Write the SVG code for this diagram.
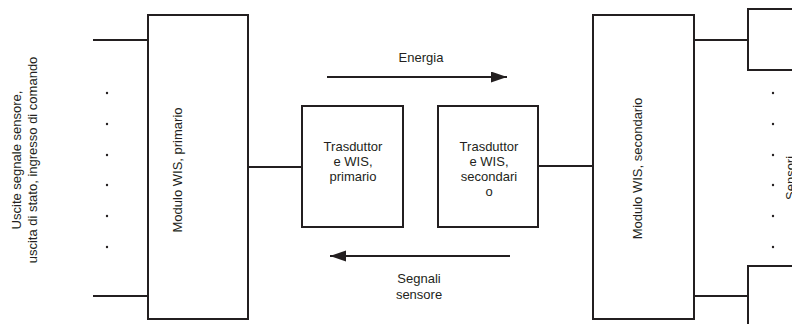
<svg xmlns="http://www.w3.org/2000/svg" width="792" height="324" viewBox="0 0 792 324">
<style>
.box{fill:#fff;stroke:#231f20;stroke-width:2}
.ln{stroke:#231f20;stroke-width:2;fill:none}
.t{font-family:"Liberation Sans",Arial,sans-serif;font-size:13px;fill:#231f20}
.c{text-anchor:middle}
.dot{fill:#231f20}
</style>
<defs>
<marker id="ah" markerUnits="userSpaceOnUse" markerWidth="17" markerHeight="12" refX="16" refY="5.5" orient="auto">
<path d="M0,0 L16,5.5 L0,11 Z" fill="#231f20"/>
</marker>
</defs>
<g id="connectors">
<line class="ln" x1="93" y1="40" x2="148" y2="40"/>
<line class="ln" x1="93" y1="296" x2="148" y2="296"/>
<line class="ln" x1="248" y1="167" x2="302" y2="167"/>
<line class="ln" x1="538" y1="166" x2="593" y2="166"/>
<line class="ln" x1="694" y1="40" x2="748" y2="40"/>
<line class="ln" x1="694" y1="296" x2="748" y2="296"/>
<line class="ln" x1="327" y1="77" x2="507" y2="77" marker-end="url(#ah)"/>
<line class="ln" x1="510" y1="256" x2="330" y2="256" marker-end="url(#ah)"/>
</g>
<g id="left-label">
<text class="t c" transform="translate(21,160) rotate(-90)">Uscite segnale sensore,</text>
<text class="t c" transform="translate(37,160) rotate(-90)">uscita di stato, ingresso di comando</text>
</g>
<g id="left-dots">
<circle class="dot" cx="107" cy="93" r="1.2"/>
<circle class="dot" cx="107" cy="124" r="1.2"/>
<circle class="dot" cx="107" cy="155" r="1.2"/>
<circle class="dot" cx="107" cy="185" r="1.2"/>
<circle class="dot" cx="107" cy="216" r="1.2"/>
<circle class="dot" cx="107" cy="247" r="1.2"/>
</g>
<g id="modulo-primario">
<rect class="box" x="148" y="15" width="100" height="304"/>
<text class="t c" transform="translate(181.5,170) rotate(-90)">Modulo WIS, primario</text>
</g>
<g id="trasduttore-primario">
<rect class="box" x="302" y="106" width="101" height="121"/>
<text class="t c" x="353" y="151">Trasduttor</text>
<text class="t c" x="353" y="166">e WIS,</text>
<text class="t c" x="353" y="181">primario</text>
</g>
<g id="trasduttore-secondario">
<rect class="box" x="438" y="106" width="100" height="121"/>
<text class="t c" x="489" y="151">Trasduttor</text>
<text class="t c" x="489" y="166">e WIS,</text>
<text class="t c" x="489" y="181">secondari</text>
<text class="t c" x="489" y="196">o</text>
</g>
<g id="label-energia">
<text class="t c" x="421" y="62">Energia</text>
</g>
<g id="label-segnali">
<text class="t c" x="419" y="283">Segnali</text>
<text class="t c" x="419" y="299">sensore</text>
</g>
<g id="modulo-secondario">
<rect class="box" x="593" y="15" width="101" height="304"/>
<text class="t c" transform="translate(641.5,168.5) rotate(-90)">Modulo WIS, secondario</text>
</g>
<g id="sensore-top">
<rect class="box" x="748" y="9" width="60" height="61"/>
</g>
<g id="sensore-bottom">
<rect class="box" x="748" y="266" width="60" height="70"/>
</g>
<g id="right-dots">
<circle class="dot" cx="773" cy="93" r="1.2"/>
<circle class="dot" cx="773" cy="124" r="1.2"/>
<circle class="dot" cx="773" cy="155" r="1.2"/>
<circle class="dot" cx="773" cy="185" r="1.2"/>
<circle class="dot" cx="773" cy="216" r="1.2"/>
<circle class="dot" cx="773" cy="247" r="1.2"/>
</g>
<g id="right-label">
<text class="t" transform="translate(794.5,200) rotate(-90)">Sensori</text>
</g>
</svg>
